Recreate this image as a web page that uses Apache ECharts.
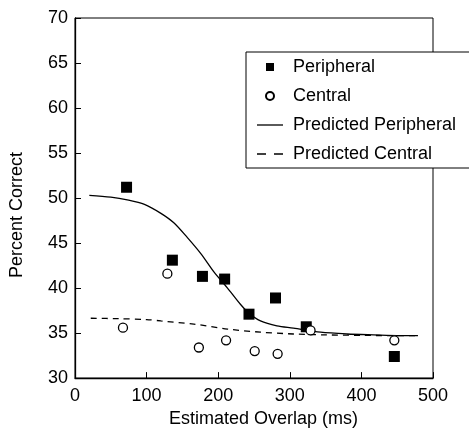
<!DOCTYPE html>
<html><head><meta charset="utf-8">
<script src="https://cdn.jsdelivr.net/npm/echarts@6/dist/echarts.min.js"></script>
<style>html,body{margin:0;padding:0;background:#fff}#c{width:469px;height:433px}</style>
</head><body><div id="c"></div>
<script>
const xTicks = [0, 100, 200, 300, 400, 500];
const yTicks = [30, 35, 40, 45, 50, 55, 60, 65, 70];
const seriesNames = ['Peripheral', 'Central', 'Predicted Peripheral', 'Predicted Central'];
const peripheralX = [72, 136, 178, 209, 243, 280, 323, 446];
const peripheralY = [51.2, 43.1, 41.3, 41.0, 37.1, 38.9, 35.7, 32.4];
const centralX = [67, 129, 173, 211, 251, 283, 329, 446];
const centralY = [35.6, 41.6, 33.4, 34.2, 33.0, 32.7, 35.3, 34.2];
const predPeriX = [20, 50, 73, 97, 120, 138, 157, 176, 194, 213, 231, 243, 259, 282, 305, 343, 380, 417, 454, 479];
const predPeriY = [50.3, 50.1, 49.8, 49.3, 48.3, 47.25, 45.6, 43.8, 41.8, 40.0, 38.2, 37.2, 36.35, 35.8, 35.55, 35.1, 34.9, 34.8, 34.72, 34.72];
const predCentX = [22, 60, 100, 120, 166, 213, 259, 305, 350, 400, 450, 479];
const predCentY = [36.65, 36.6, 36.5, 36.35, 36.0, 35.45, 35.1, 34.9, 34.8, 34.75, 34.72, 34.72];

const zip = (a, b) => a.map((v, i) => [v, b[i]]);
const FONT = 'Liberation Sans, Arial, Helvetica, sans-serif';
const ICON_SQUARE = 'path://M0,0L8,0L8,8L0,8Z';
const ICON_SOLID = 'path://M0,0L26,0L26,1.3L0,1.3Z';
const ICON_DASH = 'path://M0,0L9,0L9,1.3L0,1.3ZM17,0L26,0L26,1.3L17,1.3Z';
const chart = echarts.init(document.getElementById('c'));
chart.setOption({
  animation: false,
  backgroundColor: '#fff',
  grid: { left: 74, right: 36, top: 18, bottom: 48, show: true, borderColor: '#000', borderWidth: 1, backgroundColor: 'transparent' },
  xAxis: {
    type: 'value', min: xTicks[0], max: xTicks[xTicks.length - 1], interval: 100,
    name: 'Estimated Overlap (ms)', nameLocation: 'middle', nameGap: 29,
    nameTextStyle: { fontSize: 18, color: '#000', fontFamily: FONT, padding: [0, 0, 0, 19] },
    axisLine: { lineStyle: { color: '#000', width: 1.3 } },
    axisTick: { inside: true, length: 6, lineStyle: { color: '#000' } },
    axisLabel: { fontSize: 18, color: '#000', fontFamily: FONT, margin: 9 },
    splitLine: { show: false }
  },
  yAxis: {
    type: 'value', min: yTicks[0], max: yTicks[yTicks.length - 1], interval: 5,
    name: 'Percent Correct', nameLocation: 'middle', nameGap: 49,
    nameTextStyle: { fontSize: 18, color: '#000', fontFamily: FONT, padding: [0, 34, 0, 0] },
    axisLine: { lineStyle: { color: '#000', width: 1.3 } },
    axisTick: { inside: true, length: 6, lineStyle: { color: '#000' } },
    axisLabel: { fontSize: 18, color: '#000', fontFamily: FONT, margin: 7 },
    splitLine: { show: false }
  },
  legend: {
    orient: 'vertical', left: 246, top: 52,
    padding: [5, 30, 4, 11],
    itemWidth: 26, itemHeight: 8, itemGap: 9,
    symbolKeepAspect: true,
    selectedMode: false,
    backgroundColor: '#fff', borderColor: '#000', borderWidth: 1, borderRadius: 0,
    textStyle: { fontSize: 18, lineHeight: 20, color: '#000', fontFamily: FONT, padding: [0, 0, 0, 5] },
    data: [
      { name: seriesNames[0], icon: ICON_SQUARE },
      { name: seriesNames[1], icon: 'circle' },
      { name: seriesNames[2], icon: ICON_SOLID, itemStyle: { color: '#000', borderWidth: 0 } },
      { name: seriesNames[3], icon: ICON_DASH, itemStyle: { color: '#000', borderWidth: 0 } }
    ]
  },
  series: [
    { name: seriesNames[2], type: 'line', data: zip(predPeriX, predPeriY), symbol: 'none', smooth: 0.3,
      lineStyle: { color: '#000', width: 1.3 }, itemStyle: { color: '#000' }, z: 2 },
    { name: seriesNames[3], type: 'line', data: zip(predCentX, predCentY), symbol: 'none', smooth: 0.3,
      lineStyle: { color: '#000', width: 1.3, type: [6, 5] }, itemStyle: { color: '#000' }, z: 2 },
    { name: seriesNames[0], type: 'scatter', data: zip(peripheralX, peripheralY), symbol: 'rect', symbolSize: 11,
      itemStyle: { color: '#000', opacity: 1 }, z: 3 },
    { name: seriesNames[1], type: 'scatter', data: zip(centralX, centralY), symbol: 'circle', symbolSize: 9,
      itemStyle: { color: '#fff', borderColor: '#000', borderWidth: 1.3, opacity: 1 }, z: 3 }
  ]
});
</script></body></html>
